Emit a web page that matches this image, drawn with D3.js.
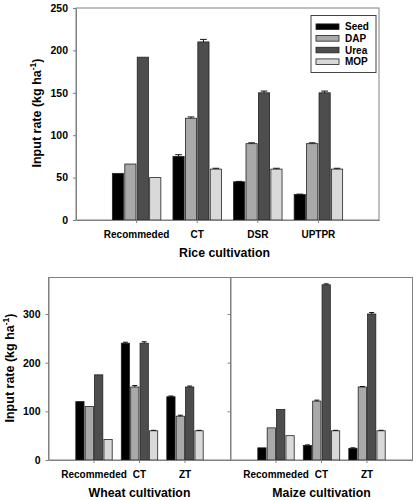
<!DOCTYPE html>
<html><head><meta charset="utf-8">
<script src="https://cdn.jsdelivr.net/npm/d3@7"></script>
<style>body{margin:0;background:#fff}svg{display:block}text{font-family:"Liberation Sans",Arial,sans-serif;font-weight:bold;fill:#000}</style>
</head><body><svg id="c" width="416" height="500"></svg>
<script>
const series = ["Seed","DAP","Urea","MOP"];
const colors = ["#000000","#a9a9a9","#4d4d4d","#d9d9d9"];

const riceCats = ["Recommeded","CT","DSR","UPTPR"];
const riceVals = {Seed:[55,75,45,30], DAP:[66,120,90,90], Urea:[192,210,150,150], MOP:[50,60,60,60]};
const riceErr  = {Seed:[0,2,0.5,0.5], DAP:[0,1.5,1,1], Urea:[0,3,2,2], MOP:[0,1,1,1]};

const wheatCats = ["Recommeded","CT","ZT"];
const wheatVals = {Seed:[120,240,130], DAP:[110,150,90], Urea:[175,240,150], MOP:[42,60,60]};
const wheatErr  = {Seed:[0,2,1.5], DAP:[0,3,2], Urea:[0,3,2], MOP:[0,1,1]};

const maizeCats = ["Recommeded","CT","ZT"];
const maizeVals = {Seed:[25,30,24], DAP:[66,121,150], Urea:[104,360,300], MOP:[50,60,60]};
const maizeErr  = {Seed:[0,1,1], DAP:[0,2,1], Urea:[0,2,3], MOP:[0,1,1]};

const riceTicks = [0,50,100,150,200,250];
const lowerTicks = [0,100,200,300];

const svg = d3.select("#c");
const frameCol = "#808080";

function panel(o){
  const g = svg.append("g");
  const n = o.cats.length;
  const pi = 0.2, po = (1+pi)/2; // centers at (i+1)*W/(n+1)
  const x = d3.scaleBand().domain(o.cats).range([o.x0,o.x1]).paddingInner(pi).paddingOuter(po);
  const xs = d3.scaleBand().domain(series).range([0,x.bandwidth()]).paddingInner(o.barPad);
  const y = d3.scaleLinear().domain(o.ydom).range([o.y0,o.y1]);

  // frame
  g.append("rect").attr("x",o.x0).attr("y",o.y1).attr("width",o.x1-o.x0).attr("height",o.y0-o.y1)
    .attr("fill","none").attr("stroke",frameCol).attr("stroke-width",1);

  // bars
  series.forEach((s,si)=>{
    o.cats.forEach((c,ci)=>{
      const v = o.vals[s][ci];
      const bx = x(c)+xs(s);
      g.append("rect").attr("x",bx).attr("y",y(v)).attr("width",xs.bandwidth()).attr("height",y(0)-y(v))
        .attr("fill",colors[si]).attr("stroke","#222").attr("stroke-width",0.8);
      const e = o.errs[s][ci];
      if(e>0){
        const cx = bx+xs.bandwidth()/2, cw = xs.bandwidth()*0.3;
        g.append("line").attr("x1",cx).attr("x2",cx).attr("y1",y(v+e)).attr("y2",y(v)).attr("stroke","#111");
        g.append("line").attr("x1",cx-cw).attr("x2",cx+cw).attr("y1",y(v+e)).attr("y2",y(v+e)).attr("stroke","#111");
      }
    });
  });

  // axes
  const xa = g.append("g").attr("transform",`translate(0,${o.y0})`)
    .call(d3.axisBottom(x).tickSize(3).tickSizeOuter(0).tickPadding(8));
  xa.select(".domain").attr("stroke",frameCol);
  xa.selectAll(".tick line").attr("stroke",frameCol);
  xa.selectAll("text").attr("font-size","10px").attr("fill","#000").style("font-family","'Liberation Sans',Arial,sans-serif").style("font-weight","bold");

  const ya = g.append("g").attr("transform",`translate(${o.x0},0)`)
    .call(d3.axisLeft(y).tickValues(o.ticks).tickSize(3).tickSizeOuter(0).tickPadding(o.showLabels?5:0).tickFormat(o.showLabels?d3.format("d"):""));
  ya.select(".domain").attr("stroke",frameCol);
  ya.selectAll(".tick line").attr("stroke",frameCol);
  ya.selectAll("text").attr("font-size","10.5px").attr("fill","#000").style("font-family","'Liberation Sans',Arial,sans-serif").style("font-weight","bold");

  // x title
  g.append("text").attr("x",(o.x0+o.x1)/2 + (o.titleDx||0)).attr("y",o.titleY).attr("text-anchor","middle")
    .attr("font-size","12.3px").text(o.title);

  if(o.ytitleX!==undefined){
    const t = g.append("text").attr("transform",`translate(${o.ytitleX},${o.ytitleY}) rotate(-90)`)
      .attr("text-anchor","middle").attr("font-size","12.5px");
    t.append("tspan").text("Input rate (kg ha");
    t.append("tspan").attr("font-size","8.5px").attr("dy","-5").text("-1");
    t.append("tspan").attr("dy","5").text(")");
  }
  return {x,y};
}

panel({cats:riceCats, vals:riceVals, errs:riceErr, x0:76, x1:379, y0:220, y1:8, ydom:[0,250], ticks:riceTicks,
  barPad:0.1, showLabels:true, title:"Rice cultivation", titleY:257, titleDx:-3, ytitleX:41, ytitleY:113});

panel({cats:wheatCats, vals:wheatVals, errs:wheatErr, x0:48.5, x1:230.5, y0:460, y1:277.5, ydom:[0,375], ticks:lowerTicks,
  barPad:0.12, showLabels:true, title:"Wheat cultivation", titleY:497, ytitleX:14, ytitleY:368});

panel({cats:maizeCats, vals:maizeVals, errs:maizeErr, x0:230.5, x1:412.5, y0:460, y1:277.5, ydom:[0,375], ticks:lowerTicks,
  barPad:0.12, showLabels:false, title:"Maize cultivation", titleY:497});

// legend
const lg = svg.append("g");
lg.append("rect").attr("x",311).attr("y",15.5).attr("width",65).attr("height",57)
  .attr("fill","#fff").attr("stroke","#444").attr("stroke-width",1);
series.forEach((s,i)=>{
  const cy = 26.7 + i*11.67;
  lg.append("rect").attr("x",316).attr("y",cy-2.8).attr("width",23).attr("height",5.6)
    .attr("fill",colors[i]).attr("stroke","#222").attr("stroke-width",0.8);
  lg.append("text").attr("x",345).attr("y",cy).attr("dy","0.35em").attr("font-size","10px").text(s);
});
</script></body></html>
